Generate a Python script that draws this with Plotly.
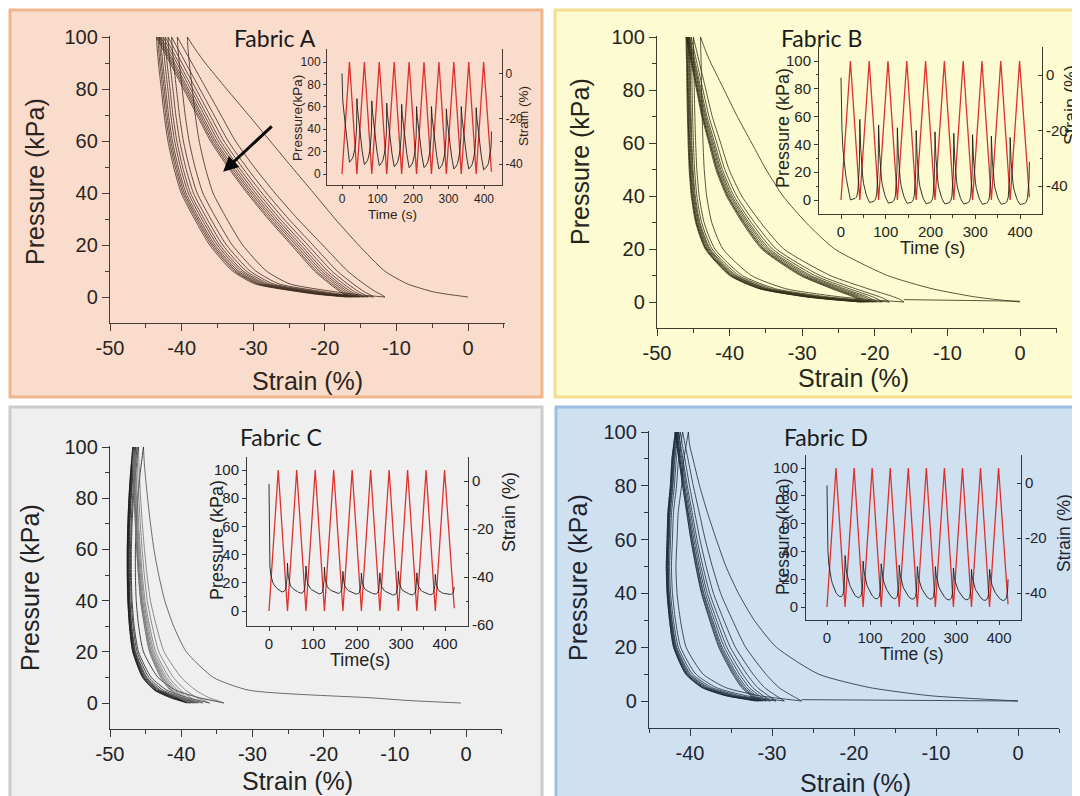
import plotly.graph_objects as go

W, H = 1080, 796
OFF = 8  # page body margin of the browser, compensated in pixel placement

# ---------------- data ----------------
P_LEVELS = [0, 1, 2, 5, 10, 20, 30, 40, 50, 60, 70, 80, 90, 95, 100]

# Fabric A : strain at peak pressure / at release for each of the 10 cycles
A_start = 0.0
A_peaks = [-39.2, -40.6, -41.4, -41.9, -42.3, -42.6, -42.9, -43.1, -43.3, -43.5]
A_valleys = [-11.6, -13.2, -14.0, -14.6, -15.1, -15.5, -15.9, -16.3, -16.6, -17.0]
# branch shapes: fraction of the strain travel reached at each pressure level
A_first = [0, 0.07, 0.124, 0.215, 0.297, 0.39, 0.473, 0.55, 0.628, 0.705, 0.782, 0.86, 0.936, 0.97, 1]
A_load = [0, 0.02, 0.045, 0.1, 0.18, 0.3, 0.42, 0.53, 0.63, 0.72, 0.79, 0.86, 0.93, 0.965, 1]
A_unload = [1, 0.85, 0.75, 0.52, 0.4, 0.28, 0.2, 0.13, 0.09, 0.06, 0.04, 0.025, 0.01, 0.004, 0]
A_ins_start = 0.0
A_ins_peaks = [-39.2, -40.2, -40.7, -41.2, -41.6, -41.6, -42.2, -42.2, -42.2, -42.6]
A_ins_valleys = [-11.1, -12.1, -13.1, -13.6, -14.6, -14.6, -15.6, -14.6, -15.1, -20.0]

# Fabric B
B_start = 0.0
B_peaks = [-44.0, -45.0, -45.3, -45.5, -45.6, -45.7, -45.8, -45.9, -45.9, -46.0]
B_valleys = [-16.0, -18.0, -19.0, -19.8, -20.3, -20.8, -21.2, -21.5, -21.8, -22.0]
B_first = [0, 0.08, 0.145, 0.275, 0.415, 0.58, 0.67, 0.742, 0.795, 0.84, 0.885, 0.926, 0.967, 0.985, 1]
B_load = [0, 0.02, 0.05, 0.17, 0.35, 0.57, 0.68, 0.77, 0.83, 0.87, 0.91, 0.94, 0.97, 0.985, 1]
B_unload = [1, 0.82, 0.68, 0.42, 0.25, 0.11, 0.055, 0.03, 0.018, 0.012, 0.008, 0.005, 0.003, 0.001, 0]
B_tail_strain = [-16.0, -10.0, -4.0, 0.0]
B_tail_press = [0.9, 0.7, 0.45, 0.3]
B_ins_start = -1.0
B_ins_peaks = [-45.0, -46.0, -46.2, -46.3, -46.4, -46.5, -46.5, -46.6, -46.6, -46.7]
B_ins_valleys = [-16.0, -18.0, -19.0, -20.0, -20.5, -21.0, -21.5, -22.0, -22.5, -24.0]

# Fabric C
C_start = -0.7
C_peaks = [-45.3, -46.0, -46.2, -46.4, -46.5, -46.6, -46.7, -46.7, -46.8, -46.8]
C_valleys = [-34.0, -36.0, -37.0, -37.6, -38.0, -38.3, -38.6, -38.8, -39.0, -39.2]
C_first = [0, 0.17, 0.28, 0.668, 0.78, 0.865, 0.905, 0.933, 0.952, 0.967, 0.978, 0.987, 0.995, 0.998, 1]
C_load = [0, 0.08, 0.17, 0.33, 0.5, 0.7, 0.79, 0.86, 0.9, 0.93, 0.955, 0.975, 0.99, 0.996, 1]
C_unload = [1, 0.85, 0.7, 0.4, 0.18, 0.0, -0.06, -0.09, -0.1, -0.1, -0.09, -0.07, -0.04, -0.02, 0]
C_ins_start = -1.2
C_ins_peaks = [-45.1, -45.7, -46.0, -46.0, -46.3, -46.3, -46.6, -46.6, -46.6, -46.9]
C_ins_valleys = [-34.2, -35.4, -35.9, -37.7, -38.3, -38.3, -37.7, -38.3, -38.9, -43.0]

# Fabric D
D_start = 0.0
D_peaks = [-40.2, -40.9, -41.2, -41.4, -41.5, -41.6, -41.7, -41.7, -41.8, -41.8]
D_valleys = [-26.4, -28.5, -29.5, -30.2, -30.7, -31.1, -31.4, -31.6, -31.8, -32.0]
D_first = [0, 0.15, 0.27, 0.45, 0.605, 0.733, 0.8, 0.848, 0.886, 0.915, 0.942, 0.966, 0.986, 0.996, 1]
D_load = [0, 0.04, 0.08, 0.19, 0.3, 0.47, 0.58, 0.68, 0.75, 0.81, 0.86, 0.91, 0.955, 0.978, 1]
D_unload = [1, 0.8, 0.62, 0.33, 0.13, -0.02, -0.07, -0.1, -0.11, -0.1, -0.09, -0.06, -0.04, -0.02, 0]
D_tail_strain = [-26.4, -18.0, -9.0, 0.0]
D_tail_press = [0.5, 0.35, 0.2, 0.0]
D_ins_start = -0.85
D_ins_peaks = [-39.9, -40.4, -40.9, -40.9, -41.1, -41.1, -41.4, -41.4, -41.6, -41.6]
D_ins_valleys = [-26.4, -28.4, -29.4, -29.9, -30.4, -30.4, -30.9, -31.4, -31.4, -31.0]

# pressure programme of the insets (triangle vertices)
PRESS_T = [0, 21, 42, 63, 84, 105, 126, 147, 168, 189, 210, 231, 252, 273, 294, 315, 336, 357, 378, 399, 421]
PRESS_V = [0, 100, 0, 100, 0, 100, 0, 100, 0, 100, 0, 100, 0, 100, 0, 100, 0, 100, 0, 100, 2]

# tick labels
MAIN_X_TICKS = [-50, -40, -30, -20, -10, 0]
MAIN_X_TICKS_D = [-40, -30, -20, -10, 0]
MAIN_Y_TICKS = [0, 20, 40, 60, 80, 100]
INS_X_TICKS = [0, 100, 200, 300, 400]
INS_Y_TICKS = [0, 20, 40, 60, 80, 100]
INS_R_TICKS = [0, -20, -40]
INS_R_TICKS_C = [0, -20, -40, -60]

TITLES = ["Fabric A", "Fabric B", "Fabric C", "Fabric D"]


def lab(v):
    return str(v)


# ---------------- helpers ----------------
def rng(p0, p1, pa, va, pb, vb):
    k = (vb - va) / (pb - pa)
    return [va + (p0 - pa) * k, va + (p1 - pa) * k]


def fx(px):
    return (px - OFF) / W


def fy(py):
    return 1 - (py - OFF) / H


def xdom(p0, p1):
    return [fx(p0), fx(p1)]


def ydom(ptop, pbot):
    return [fy(pbot), fy(ptop)]


def loop_branches(start, peaks, valleys, first, load, unload):
    out = []
    s = [start + (peaks[0] - start) * f for f in first]
    out.append((s, list(P_LEVELS), "first"))
    for i in range(len(peaks)):
        if i > 0:
            v, p = valleys[i - 1], peaks[i]
            out.append(([v + (p - v) * f for f in load], list(P_LEVELS), "load"))
        p, v = peaks[i], valleys[i]
        s = [p + (v - p) * g for g in reversed(unload)]
        out.append((s, list(reversed(P_LEVELS)), "unload"))
    return out


def inset_series(start, peaks, valleys, first, load, unload):
    ts, ss = [], []
    for i in range(len(peaks)):
        t0, t1, t2 = PRESS_T[2 * i], PRESS_T[2 * i + 1], PRESS_T[2 * i + 2]
        v0, v1, v2 = PRESS_V[2 * i], PRESS_V[2 * i + 1], PRESS_V[2 * i + 2]
        vp = start if i == 0 else valleys[i - 1]
        prof = first if i == 0 else load
        for P, f in zip(P_LEVELS, prof):
            ts.append(t0 + (P - v0) / (v1 - v0) * (t1 - t0))
            ss.append(vp + (peaks[i] - vp) * f)
        for P, g in zip(reversed(P_LEVELS), list(reversed(unload))):
            if P < v2:
                continue
            ts.append(t1 + (v1 - P) / (v1 - v2) * (t2 - t1))
            ss.append(peaks[i] + (valleys[i] - peaks[i]) * g)
    return ts, ss


panels = [
    dict(start=A_start, peaks=A_peaks, valleys=A_valleys, first=A_first, load=A_load, unload=A_unload,
         istart=A_ins_start, ipeaks=A_ins_peaks, ivalleys=A_ins_valleys, tail=None,
         colors=dict(first="#3e2a20", load="#3e2a20", unload="#3e2a20"),
         axc="#4a3c35", txt="#2b2420",
         bg="#f9dccb", border="#f0b48e", box=(10, 10, 542, 397),
         mx=(110, 505, 110, -50, 468, 0), my=(36, 323, 297, 0, 37, 100), xt=MAIN_X_TICKS,
         xminor=[-45, -35, -25, -15, -5, 5],
         ix=(327, 502, 342, 0, 484, 400), iy=(49, 185, 174, 0, 62, 100), ir=(73.5, 0, 164, -40),
         irt=INS_R_TICKS, irminor=[-10, -30], ifont=12, ititle=13.5, itl=3,
         ylab="Pressure(kPa)", tlab="Time (s)",
         title_xy=(275, 38), ytitle=(35, 182), xtitle=(307, 381),
         iytitle=(298, 118), ixtitle=(392, 214), irtitle=(523, 116)),
    dict(start=B_start, peaks=B_peaks, valleys=B_valleys, first=B_first, load=B_load, unload=B_unload,
         istart=B_ins_start, ipeaks=B_ins_peaks, ivalleys=B_ins_valleys, tail=(B_tail_strain, B_tail_press),
         colors=dict(first="#2f2e14", load="#2f2e14", unload="#2f2e14"),
         axc="#3d3c2c", txt="#26251a",
         bg="#fdfbd1", border="#f2de8e", box=(555, 10, 1085, 397),
         mx=(657, 1057, 657, -50, 1020, 0), my=(36, 328, 302, 0, 37, 100), xt=MAIN_X_TICKS,
         xminor=[-45, -35, -25, -15, -5, 5],
         ix=(819, 1042, 841, 0, 1020, 400), iy=(47, 214, 200, 0, 61, 100), ir=(75, 0, 186, -40),
         irt=INS_R_TICKS, irminor=[-10, -30], ifont=15, ititle=18, itl=4,
         ylab="Pressure (kPa)", tlab="Time (s)",
         title_xy=(821, 38), ytitle=(580, 162), xtitle=(853, 378),
         iytitle=(783, 128), ixtitle=(932, 248), irtitle=(1071, 105)),
    dict(start=C_start, peaks=C_peaks, valleys=C_valleys, first=C_first, load=C_load, unload=C_unload,
         istart=C_ins_start, ipeaks=C_ins_peaks, ivalleys=C_ins_valleys, tail=None,
         colors=dict(first="#4a4a4a", load="#6e6e6e", unload="#1a1a1a"),
         axc="#3a3a3a", txt="#222222",
         bg="#efefef", border="#cbcbcb", box=(10, 407, 542, 800),
         mx=(110, 502, 110, -50, 466, 0), my=(446, 729, 703, 0, 447, 100), xt=MAIN_X_TICKS,
         xminor=[-45, -35, -25, -15, -5, 5],
         ix=(247, 468, 269, 0, 445, 400), iy=(457, 626, 611, 0, 470, 100), ir=(481, 0, 625, -60),
         irt=INS_R_TICKS_C, irminor=[-10, -30, -50], ifont=15, ititle=18, itl=4,
         ylab="Pressure (kPa)", tlab="Time(s)",
         title_xy=(281, 437), ytitle=(30, 588), xtitle=(297, 781),
         iytitle=(217, 540), ixtitle=(360, 660), irtitle=(509, 512)),
    dict(start=D_start, peaks=D_peaks, valleys=D_valleys, first=D_first, load=D_load, unload=D_unload,
         istart=D_ins_start, ipeaks=D_ins_peaks, ivalleys=D_ins_valleys, tail=(D_tail_strain, D_tail_press),
         colors=dict(first="#1c2a3a", load="#1c2a3a", unload="#1c2a3a"),
         axc="#2e3846", txt="#1e2530",
         bg="#cfe0f1", border="#9cc0e2", box=(556, 407, 1085, 800),
         mx=(649, 1059, 690, -40, 1018, 0), my=(431, 728, 701, 0, 432, 100), xt=MAIN_X_TICKS_D,
         xminor=[-45, -35, -25, -15, -5, 5],
         ix=(806, 1021, 827, 0, 999, 400), iy=(455, 620, 607, 0, 468, 100), ir=(483, 0, 593, -40),
         irt=INS_R_TICKS, irminor=[-10, -30], ifont=15, ititle=17.5, itl=4,
         ylab="Pressure (kPa)", tlab="Time (s)",
         title_xy=(826, 437), ytitle=(578, 578), xtitle=(855, 783),
         iytitle=(783, 537), ixtitle=(912, 654), irtitle=(1064, 533)),
]

fig = go.Figure()
layout = dict(width=W, height=H, margin=dict(l=0, r=0, t=0, b=0, autoexpand=False),
              paper_bgcolor="white", plot_bgcolor="rgba(0,0,0,0)", showlegend=False,
              shapes=[], annotations=[])
TICKF = "Liberation Sans, Arial, sans-serif"


def ax_common(c, tc, size, tl, lw, ticks="outside"):
    return dict(showline=True, linecolor=c, linewidth=lw, ticks=ticks, ticklen=tl,
                tickwidth=lw, tickcolor=c, showgrid=False, zeroline=False, fixedrange=True,
                automargin=False, tickfont=dict(family=TICKF, size=size, color=tc))


def ann(text, px, py, size, color, angle=0, family=TICKF):
    layout["annotations"].append(dict(text=text, x=fx(px), y=fy(py), xref="paper", yref="paper",
                                      showarrow=False, xanchor="center", yanchor="middle",
                                      textangle=angle, font=dict(family=family, size=size, color=color)))


for k, pn in enumerate(panels):
    i = k + 1
    xa, ya = ("x" if i == 1 else f"x{i}"), ("y" if i == 1 else f"y{i}")
    ixn, iyn, irn = 4 + i, 4 + i, 8 + i

    # panel background
    x0, y0, x1, y1 = pn["box"]
    layout["shapes"].append(dict(type="rect", xref="paper", yref="paper", x0=fx(x0), x1=fx(x1),
                                 y0=fy(y1), y1=fy(y0), fillcolor=pn["bg"],
                                 line=dict(color=pn["border"], width=3), layer="below"))

    # main hysteresis loops
    for s, P, kind in loop_branches(pn["start"], pn["peaks"], pn["valleys"], pn["first"], pn["load"], pn["unload"]):
        fig.add_trace(go.Scatter(x=s, y=P, mode="lines", xaxis=xa, yaxis=ya, hoverinfo="skip",
                                 line=dict(color=pn["colors"][kind], width=0.8, shape="spline", smoothing=0.6)))
    if pn["tail"] is not None:
        fig.add_trace(go.Scatter(x=pn["tail"][0], y=pn["tail"][1], mode="lines", xaxis=xa, yaxis=ya,
                                 hoverinfo="skip", line=dict(color=pn["colors"]["unload"], width=0.8)))

    # inset: strain (black, right axis) and pressure (red, left axis)
    ts, ss = inset_series(pn["istart"], pn["ipeaks"], pn["ivalleys"], pn["first"], pn["load"], pn["unload"])
    fig.add_trace(go.Scatter(x=ts, y=ss, mode="lines", xaxis=f"x{ixn}", yaxis=f"y{irn}", hoverinfo="skip",
                             line=dict(color="#1e1e1e", width=0.9)))
    fig.add_trace(go.Scatter(x=PRESS_T, y=PRESS_V, mode="lines", xaxis=f"x{ixn}", yaxis=f"y{iyn}",
                             hoverinfo="skip", line=dict(color="#e0302c", width=1.3)))

    c, tc = pn["axc"], pn["txt"]
    # main axes
    mx, my = pn["mx"], pn["my"]
    xr = rng(mx[0], mx[1], mx[2], mx[3], mx[4], mx[5])
    yr = rng(my[1], my[0], my[2], my[3], my[4], my[5])
    xd = ax_common(c, tc, 20, 7, 1.3)
    xd.update(domain=xdom(mx[0], mx[1]), range=xr, anchor=ya, tickmode="array",
              tickvals=pn["xt"], ticktext=[lab(v) for v in pn["xt"]],
              minor=dict(tickmode="array", tickvals=pn["xminor"], ticklen=4, tickwidth=1.1, tickcolor=c,
                         ticks="outside"))
    yd = ax_common(c, tc, 20, 7, 1.3)
    yd.update(domain=ydom(my[0], my[1]), range=yr, anchor=xa, tickmode="array",
              tickvals=MAIN_Y_TICKS, ticktext=[lab(v) for v in MAIN_Y_TICKS],
              minor=dict(tickmode="array", tickvals=[10, 30, 50, 70, 90], ticklen=4, tickwidth=1.1,
                         tickcolor=c, ticks="outside"))
    layout["xaxis" if i == 1 else f"xaxis{i}"] = xd
    layout["yaxis" if i == 1 else f"yaxis{i}"] = yd

    # inset axes
    ix, iy, ir = pn["ix"], pn["iy"], pn["ir"]
    f, tl = pn["ifont"], pn["itl"]
    ixr = rng(ix[0], ix[1], ix[2], ix[3], ix[4], ix[5])
    iyr = rng(iy[1], iy[0], iy[2], iy[3], iy[4], iy[5])
    irr = rng(iy[1], iy[0], ir[0], ir[1], ir[2], ir[3])
    d = ax_common(c, tc, f, tl, 1.0)
    d.update(domain=xdom(ix[0], ix[1]), range=ixr, anchor=f"y{iyn}", tickmode="array",
             tickvals=INS_X_TICKS, ticktext=[lab(v) for v in INS_X_TICKS],
             minor=dict(tickmode="array", tickvals=[50, 150, 250, 350], ticklen=2.5, tickwidth=0.8,
                        tickcolor=c, ticks="outside"))
    layout[f"xaxis{ixn}"] = d
    d = ax_common(c, tc, f, tl, 1.0)
    d.update(domain=ydom(iy[0], iy[1]), range=iyr, anchor=f"x{ixn}", tickmode="array",
             tickvals=INS_Y_TICKS, ticktext=[lab(v) for v in INS_Y_TICKS],
             minor=dict(tickmode="array", tickvals=[10, 30, 50, 70, 90], ticklen=2.5, tickwidth=0.8,
                        tickcolor=c, ticks="outside"))
    layout[f"yaxis{iyn}"] = d
    d = ax_common(c, tc, f, tl, 1.0, ticks="inside")
    d.update(range=irr, anchor=f"x{ixn}", overlaying=f"y{iyn}", side="right", tickmode="array",
             tickvals=pn["irt"], ticktext=[lab(v) for v in pn["irt"]],
             minor=dict(tickmode="array", tickvals=pn["irminor"], ticklen=2.5, tickwidth=0.8,
                        tickcolor=c, ticks="inside"))
    layout[f"yaxis{irn}"] = d

    # texts
    ann(TITLES[k], pn["title_xy"][0], pn["title_xy"][1], 23, "#1a1a1a", family="Lato, Open Sans, sans-serif")
    ann("Pressure (kPa)", pn["ytitle"][0], pn["ytitle"][1], 25, tc, angle=-90)
    ann("Strain (%)", pn["xtitle"][0], pn["xtitle"][1], 25, tc)
    ann(pn["ylab"], pn["iytitle"][0], pn["iytitle"][1], pn["ititle"], tc, angle=-90)
    ann(pn["tlab"], pn["ixtitle"][0], pn["ixtitle"][1], pn["ititle"], tc)
    ann("Strain (%)", pn["irtitle"][0], pn["irtitle"][1], pn["ititle"], tc, angle=-90)

# arrow in panel A
layout["annotations"].append(dict(x=-34.2, y=48.2, ax=-27.2, ay=66.2, xref="x", yref="y", axref="x", ayref="y",
                                  text="", showarrow=True, arrowhead=2, arrowsize=1, arrowwidth=3,
                                  arrowcolor="#0a0a0a"))

fig.update_layout(**layout)
fig.write_html("out.html")
